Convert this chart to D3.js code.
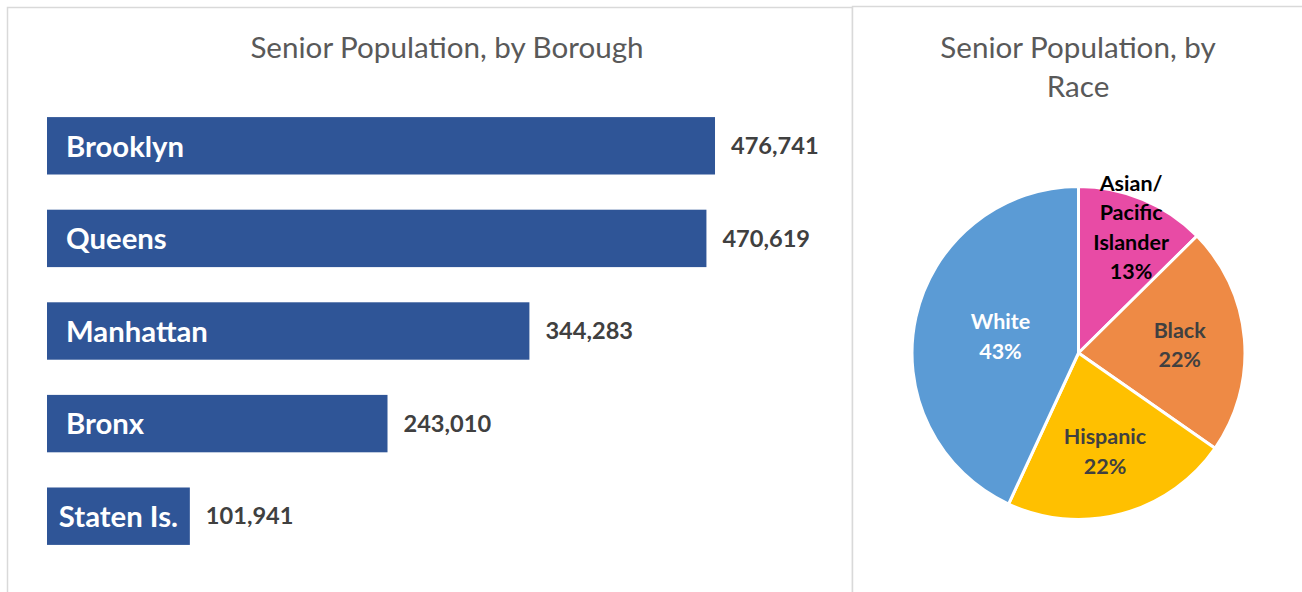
<!DOCTYPE html>
<html><head><meta charset="utf-8">
<script src="https://cdn.jsdelivr.net/npm/d3@7"></script>
<style>
html,body{margin:0;padding:0;background:#fff;}
svg{display:block;font-family:Lato,"Open Sans",sans-serif;}
</style></head>
<body>
<svg id="chart" width="1302" height="592"></svg>
<script>
const boroughs = ["Brooklyn","Queens","Manhattan","Bronx","Staten Is."];
const boroughValues = [476741, 470619, 344283, 243010, 101941];
const races = ["Asian/ Pacific Islander","Black","Hispanic","White"];
const raceShares = [12.6, 22.1, 22.2, 43.1];
const raceColors = ["#E84BA5","#EE8A45","#FFC000","#5B9BD5"];
const raceLabelColors = ["#000000","#404040","#404040","#ffffff"];
const barTitle = "Senior Population, by Borough";
const pieTitle = ["Senior Population, by","Race"];

const svg = d3.select("#chart");
const border = "#d9d9d9";

// panels
svg.append("rect").attr("x",7.5).attr("y",7.5).attr("width",845).attr("height",600)
  .attr("fill","#fff").attr("stroke",border).attr("stroke-width",1.5);
svg.append("rect").attr("x",852.5).attr("y",6.5).attr("width",470).attr("height",600)
  .attr("fill","#fff").attr("stroke",border).attr("stroke-width",1.5);

// ---- bar chart ----
const x = d3.scaleLinear().domain([0,500000]).range([47, 47 + 500000*0.0014012]);
const y = d3.scaleBand().domain(boroughs).range([99.5, 562.5]).paddingInner(0.38).paddingOuter(0.19);

svg.append("text").attr("x",447).attr("y",58).attr("text-anchor","middle")
  .attr("font-size",29.6).attr("fill","#595959").text(barTitle);

const data = boroughs.map((b,i)=>({name:b, value:boroughValues[i]}));
const g = svg.append("g");
g.selectAll("rect.bar").data(data).join("rect").attr("class","bar")
  .attr("x",x(0)).attr("y",d=>y(d.name)).attr("width",d=>x(d.value)-x(0))
  .attr("height",y.bandwidth()).attr("fill","#2F5597");

g.selectAll("text.cat").data(data).join("text").attr("class","cat")
  .attr("y",d=>y(d.name)+y.bandwidth()/2).attr("dy","0.37em")
  .attr("font-size",29.3).attr("font-weight",700).attr("fill","#fff")
  .text(d=>d.name)
  .each(function(d){
    const w = this.getComputedTextLength();
    const bw = x(d.value)-x(0);
    const off = Math.min(19, (bw - w)/2);
    d3.select(this).attr("x", x(0)+off);
  });

g.selectAll("text.val").data(data).join("text").attr("class","val")
  .attr("x",d=>x(d.value)+16).attr("y",d=>y(d.name)+y.bandwidth()/2).attr("dy","0.35em")
  .attr("font-size",23.6).attr("font-weight",700).attr("fill","#404040")
  .text(d=>d3.format(",")(d.value));

// ---- pie chart ----
const cx = 1078.5, cy = 353, R = 166.5;
pieTitle.forEach((t,i)=>{
  svg.append("text").attr("x",1078).attr("y",58+i*38.5).attr("text-anchor","middle")
    .attr("font-size",29.6).attr("fill","#595959").text(t);
});
const pie = d3.pie().sort(null).value(d=>d.v);
const pdata = pie(races.map((r,i)=>({name:r, v:raceShares[i], color:raceColors[i], lc:raceLabelColors[i]})));
const arc = d3.arc().innerRadius(0).outerRadius(R);
const pg = svg.append("g").attr("transform",`translate(${cx},${cy})`);
pg.selectAll("path").data(pdata).join("path").attr("d",arc)
  .attr("fill",d=>d.data.color).attr("stroke","#fff").attr("stroke-width",3).attr("stroke-linejoin","round");

function labelRadius(share){
  if (share < 15) return R*0.82;
  if (share > 40) return R*0.48;
  return R*0.61;
}
pdata.forEach(d=>{
  const share = d.data.v;
  const lr = labelRadius(share);
  const a = (d.startAngle+d.endAngle)/2;
  const px = lr*Math.sin(a), py = -lr*Math.cos(a);
  const words = d.data.name.includes("/") ? ["Asian/","Pacific","Islander"] : [d.data.name];
  const lines = words.concat([Math.round(share)+"%"]);
  const lh = 29.5;
  const t = pg.append("text").attr("text-anchor","middle").attr("font-size",21.5)
    .attr("font-weight",700).attr("fill",d.data.lc);
  lines.forEach((ln,i)=>{
    t.append("tspan").attr("x",px).attr("y",py + (i-(lines.length-1)/2)*lh).attr("dy","0.38em").text(ln);
  });
});
</script>
</body></html>
